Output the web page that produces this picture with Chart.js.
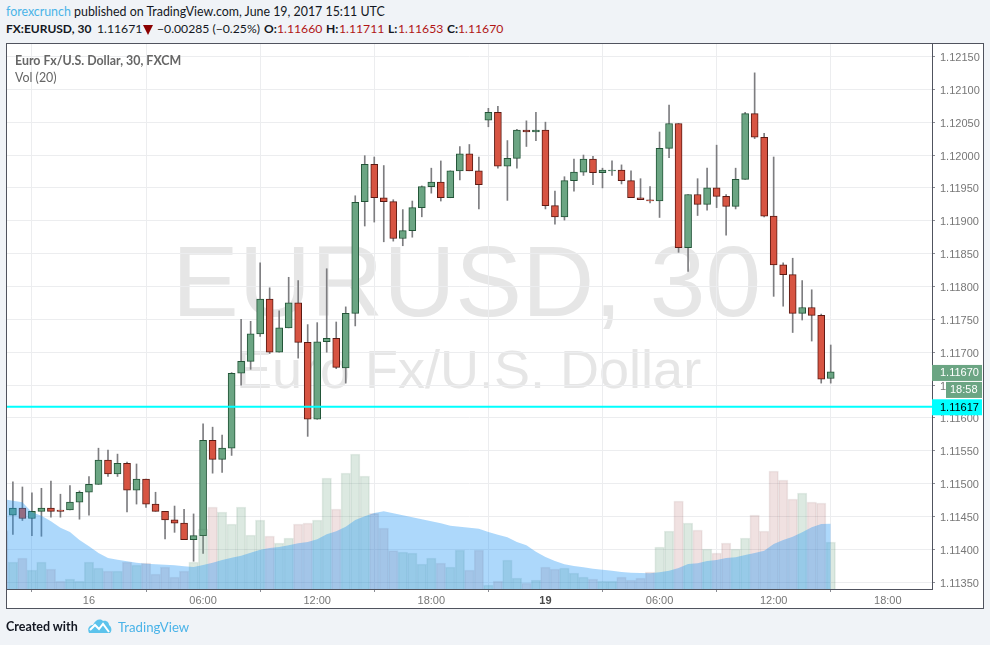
<!DOCTYPE html>
<html>
<head>
<meta charset="utf-8">
<title>EURUSD, 30</title>
<script src="https://cdn.jsdelivr.net/npm/chart.js@4"></script>
<style>
  html, body { margin: 0; padding: 0; background: #f0f3f7; }
  body { width: 990px; height: 645px; position: relative; overflow: hidden; font-family: Lato, sans-serif; color: #131722; }
  .abs { position: absolute; white-space: nowrap; }
  #panel { left: 6px; top: 43px; width: 976px; height: 564px; background: #fff; border: 1px solid #50535e; }
  #chart { position: absolute; left: 0; top: 0; }
  #line1 { left: 6px; top: 4px; font-size: 12.4px; line-height: 16px; }
  #line1 .brand { color: #4ab3e8; }
  .h2 { top: 21px; font-size: 12.2px; line-height: 16px; }
  .h2.lab { font-weight: 700; font-size: 12px; }
  .h2.red { color: #b01515; }
  #arrow { left: 143px; top: 25px; width: 0; height: 0; border-left: 5px solid transparent; border-right: 5px solid transparent; border-top: 10px solid #8b0000; }
  .mark { color: #e6e6e6; font-family: "Liberation Sans", sans-serif; }
  #mark1 { left: 172px; top: 226px; font-size: 100px; line-height: 110px; }
  #mark2 { left: 236px; top: 341px; font-size: 54px; line-height: 56px; }
  .legend { left: 15px; color: #666; font-size: 12.4px; line-height: 16px; }
  #legend1 { top: 53px; font-weight: 700; }
  #legend2 { top: 70px; }
  #created { left: 6px; top: 619px; font-size: 12.5px; line-height: 16px; font-weight: 700; }
  #tvname { left: 118px; top: 619px; font-size: 13.2px; line-height: 16px; color: #4ab3e8; }
  #logo { left: 88px; top: 618px; }
</style>
</head>
<body>
<div class="abs" id="line1"><span class="brand">forexcrunch</span> published on TradingView.com, June 19, 2017 15:11 UTC</div>
<div class="abs h2 lab" style="left:6px">FX:EURUSD, 30</div>
<div class="abs h2" style="left:97px">1.11671</div>
<div class="abs" id="arrow"></div>
<div class="abs h2" style="left:157px">−0.00285 (−0.25%)</div>
<div class="abs h2 lab" style="left:264px">O:</div>
<div class="abs h2 red" style="left:277px">1.11660</div>
<div class="abs h2 lab" style="left:326px">H:</div>
<div class="abs h2 red" style="left:339px">1.11711</div>
<div class="abs h2 lab" style="left:388px">L:</div>
<div class="abs h2 red" style="left:398px">1.11653</div>
<div class="abs h2 lab" style="left:447px">C:</div>
<div class="abs h2 red" style="left:458px">1.11670</div>
<div class="abs" id="panel"></div>
<div class="abs mark" id="mark1">EURUSD, 30</div>
<div class="abs mark" id="mark2">Euro Fx/U.S. Dollar</div>
<canvas id="chart" width="990" height="645"></canvas>
<div class="abs legend" id="legend1">Euro Fx/U.S. Dollar, 30, FXCM</div>
<div class="abs legend" id="legend2">Vol (20)</div>
<div class="abs" id="created">Created with</div>
<svg class="abs" id="logo" width="24" height="16" viewBox="0 0 24 16">
  <path d="M1 15 C-1 11 1 7 5 7 C7 2 12 0 15 3 C19 2 21 5 21 7 C24 9 24 13 22 15 Z" fill="#5cc3ec"/>
  <path d="M2 12 L7 7 L11 11 L15 6 L21 14" fill="none" stroke="#fff" stroke-width="2"/>
</svg>
<div class="abs" id="tvname">TradingView</div>

<script>
// === DATOS ===
const opens = [
  1.11452, 1.11463, 1.11447, 1.11458, 1.11463, 1.11460, 1.11460, 1.11472, 1.11487, 1.11499,
  1.11536, 1.11515, 1.11531, 1.11490, 1.11507, 1.11469, 1.11458, 1.11445, 1.11440, 1.11415,
  1.11421, 1.11566, 1.11537, 1.11554, 1.11668, 1.11686, 1.11728, 1.11781, 1.11700, 1.11737,
  1.11775, 1.11715, 1.11598, 1.11716, 1.11721, 1.11676, 1.11759, 1.11929, 1.11986, 1.11935,
  1.11929, 1.11873, 1.11885, 1.11920, 1.11952, 1.11959, 1.11935, 1.11976, 1.12002, 1.11976,
  1.12053, 1.12065, 1.11983, 1.11995, 1.12038, 1.12035, 1.12038, 1.11923, 1.11906, 1.11961,
  1.11974, 1.11994, 1.11973, 1.11976, 1.11977, 1.11961, 1.11935, 1.11932, 1.11930, 1.12010,
  1.12048, 1.11859, 1.11940, 1.11925, 1.11950, 1.11937, 1.11922, 1.11963, 1.12063, 1.12027,
  1.11907, 1.11833, 1.11818, 1.11759, 1.11768, 1.11756, 1.11660
];
const highs = [
  1.11503, 1.11495, 1.11486, 1.11493, 1.11504, 1.11484, 1.11497, 1.11489, 1.11511, 1.11554,
  1.11551, 1.11545, 1.11533, 1.11530, 1.11507, 1.11487, 1.11458, 1.11466, 1.11461, 1.11454,
  1.11591, 1.11586, 1.11574, 1.11669, 1.11750, 1.11747, 1.11836, 1.11798, 1.11763, 1.11814,
  1.11809, 1.11742, 1.11745, 1.11827, 1.11746, 1.11769, 1.11938, 1.11999, 1.11997, 1.11984,
  1.11932, 1.11917, 1.11930, 1.11953, 1.11980, 1.11991, 1.11976, 1.12013, 1.12016, 1.11997,
  1.12071, 1.12074, 1.12022, 1.12039, 1.12052, 1.12065, 1.12050, 1.11945, 1.11967, 1.11994,
  1.12000, 1.11998, 1.11980, 1.11991, 1.11985, 1.11976, 1.11964, 1.11952, 1.12035, 1.12076,
  1.12048, 1.11940, 1.11964, 1.11980, 1.12015, 1.11940, 1.11980, 1.12065, 1.12125, 1.12033,
  1.11997, 1.11836, 1.11843, 1.11809, 1.11795, 1.11758, 1.11711
];
const lows = [
  1.11423, 1.11444, 1.11421, 1.11420, 1.11449, 1.11449, 1.11460, 1.11446, 1.11452, 1.11499,
  1.11511, 1.11511, 1.11457, 1.11469, 1.11464, 1.11458, 1.11416, 1.11426, 1.11415, 1.11382,
  1.11394, 1.11516, 1.11517, 1.11543, 1.11650, 1.11674, 1.11724, 1.11698, 1.11700, 1.11737,
  1.11691, 1.11572, 1.11598, 1.11700, 1.11675, 1.11653, 1.11740, 1.11892, 1.11898, 1.11868,
  1.11869, 1.11862, 1.11875, 1.11906, 1.11942, 1.11930, 1.11935, 1.11962, 1.11976, 1.11918,
  1.12043, 1.11980, 1.11931, 1.11980, 1.12013, 1.12022, 1.11918, 1.11895, 1.11901, 1.11945,
  1.11969, 1.11955, 1.11950, 1.11969, 1.11956, 1.11935, 1.11932, 1.11927, 1.11905, 1.11996,
  1.11852, 1.11823, 1.11908, 1.11916, 1.11920, 1.11878, 1.11918, 1.11963, 1.12025, 1.11906,
  1.11785, 1.11770, 1.11730, 1.11749, 1.11717, 1.11653, 1.11653
];
const closes = [
  1.11463, 1.11447, 1.11458, 1.11463, 1.11458, 1.11458, 1.11472, 1.11487, 1.11499, 1.11536,
  1.11515, 1.11531, 1.11490, 1.11507, 1.11469, 1.11458, 1.11445, 1.11440, 1.11415, 1.11421,
  1.11566, 1.11537, 1.11554, 1.11668, 1.11686, 1.11728, 1.11781, 1.11700, 1.11737, 1.11775,
  1.11715, 1.11598, 1.11716, 1.11721, 1.11677, 1.11759, 1.11928, 1.11986, 1.11935, 1.11929,
  1.11873, 1.11885, 1.11920, 1.11952, 1.11959, 1.11935, 1.11976, 1.12002, 1.11976, 1.11955,
  1.12065, 1.11983, 1.11995, 1.12038, 1.12035, 1.12038, 1.11923, 1.11906, 1.11961, 1.11974,
  1.11994, 1.11973, 1.11977, 1.11977, 1.11961, 1.11935, 1.11932, 1.11930, 1.12010, 1.12048,
  1.11859, 1.11940, 1.11925, 1.11950, 1.11937, 1.11922, 1.11963, 1.12063, 1.12027, 1.11907,
  1.11833, 1.11818, 1.11759, 1.11768, 1.11756, 1.11659, 1.11670
];
// Volumen: el primer valor es la barra anterior, cortada por el borde izquierdo
const volumes = [
  175,
  81, 93, 57, 81, 60, 24, 30, 24, 81, 63,
  54, 54, 81, 72, 78, 45, 66, 36, 54, 81,
  180, 246, 231, 195, 246, 162, 207, 159, 138, 153,
  195, 198, 207, 333, 240, 348, 405, 339, 227, 183,
  115, 111, 108, 75, 93, 78, 66, 117, 57, 117,
  12, 24, 87, 33, 18, 27, 66, 60, 63, 48,
  36, 30, 24, 24, 36, 27, 33, 51, 126, 174,
  264, 198, 177, 120, 108, 138, 120, 153, 222, 174,
  354, 327, 270, 288, 261, 258, 141
];
const volumeMa = [
  270,
  265, 260, 230, 220, 203, 184, 171, 147, 128, 108,
  93, 88, 83, 79, 76, 74, 73, 71, 68, 66,
  72, 79, 87, 94, 100, 109, 118, 123, 126, 131,
  137, 141, 149, 164, 173, 187, 207, 218, 228, 233,
  227, 221, 215, 209, 203, 197, 190, 187, 184, 181,
  171, 163, 155, 141, 131, 112, 96, 84, 74, 69,
  65, 61, 58, 55, 51, 49, 48, 47, 50, 55,
  63, 75, 77, 84, 87, 93, 95, 102, 108, 115,
  135, 147, 157, 170, 185, 195, 196
];
const yTicks = [1.1135, 1.114, 1.1145, 1.115, 1.1155, 1.116, 1.1165, 1.117, 1.1175, 1.118, 1.1185, 1.119, 1.1195, 1.12, 1.1205, 1.121, 1.1215];
const xTickIndex = [8, 20, 32, 44, 56, 68, 80, 92];
const xTickLabels = ['16', '06:00', '12:00', '18:00', '19', '06:00', '12:00', '18:00'];
const boldTick = '19';
const levelPrice = 1.11617;
const countdown = '18:58';

// Rango visible de los ejes
const xMin = -0.62, xMax = 96.65;
const yMin = 1.113398, yMax = 1.121689;
const volMax = 1635;

const UP = '#6ba583', DOWN = '#d75442', UP_BORDER = '#225437', DOWN_BORDER = '#5b1a13';
const isUp = i => closes[i] >= opens[i];

// === ETIQUETAS DEL EJE DE PRECIOS ===
const priceTags = {
  id: 'priceTags',
  afterDraw(chart) {
    const ctx = chart.ctx, y = chart.scales.y;
    const tag = (x0, x1, cy, h, bg, fg, text, textX) => {
      ctx.fillStyle = bg;
      ctx.fillRect(x0, cy - h / 2, x1 - x0, h);
      ctx.fillStyle = fg;
      ctx.textAlign = 'left';
      ctx.textBaseline = 'middle';
      ctx.font = '11px "Liberation Sans"';
      ctx.fillText(text, textX, cy + 0.5);
    };
    const last = closes[closes.length - 1];
    tag(932, 982, y.getPixelForValue(last) + 1, 16, UP, '#fff', last.toFixed(5), 940);
    tag(946, 982, y.getPixelForValue(last) + 18, 16, UP, '#fff', countdown, 950);
    tag(932, 982, y.getPixelForValue(levelPrice) + 0.5, 16, '#00ffff', '#000', levelPrice.toFixed(5), 940);
  }
};

// === GRÁFICO ===
new Chart(document.getElementById('chart').getContext('2d'), {
  data: {
    datasets: [
      {
        type: 'line',
        data: [{ x: xMin, y: levelPrice }, { x: xMax, y: levelPrice }],
        borderColor: '#00ffff',
        borderWidth: 2,
        pointRadius: 0,
        order: 0
      },
      {
        type: 'line',
        yAxisID: 'v',
        data: volumeMa.map((v, i) => ({ x: i - 1, y: v })),
        backgroundColor: 'rgba(33,150,243,0.37)',
        borderWidth: 0,
        pointRadius: 0,
        fill: 'origin',
        order: 1
      },
      {
        type: 'bar',
        yAxisID: 'v',
        grouped: false,
        barPercentage: 1,
        categoryPercentage: 1,
        data: volumes.map((v, i) => ({ x: i - 1, y: v })),
        backgroundColor: volumes.map((v, i) => i > 0 && isUp(i - 1) ? 'rgba(107,165,131,0.24)' : 'rgba(170,90,90,0.18)'),
        borderColor: volumes.map((v, i) => i > 0 && isUp(i - 1) ? 'rgba(70,120,90,0.14)' : 'rgba(120,70,70,0.12)'),
        borderWidth: 1,
        order: 2
      },
      {
        type: 'bar',
        grouped: false,
        barThickness: 7,
        data: opens.map((o, i) => ({ x: i, y: [o, closes[i]] })),
        backgroundColor: opens.map((o, i) => isUp(i) ? UP : DOWN),
        borderColor: opens.map((o, i) => isUp(i) ? UP_BORDER : DOWN_BORDER),
        borderWidth: 1,
        borderSkipped: false,
        order: 3
      },
      {
        type: 'bar',
        grouped: false,
        barThickness: 1,
        data: lows.map((l, i) => ({ x: i, y: [l, highs[i]] })),
        backgroundColor: '#7d7d80',
        order: 4
      }
    ]
  },
  options: {
    responsive: false,
    animation: false,
    layout: { padding: { left: 7, top: 44, right: 8, bottom: 37 } },
    plugins: { legend: { display: false }, tooltip: { enabled: false } },
    scales: {
      x: {
        type: 'linear',
        min: xMin,
        max: xMax,
        offset: false,
        afterBuildTicks: s => { s.ticks = xTickIndex.map(v => ({ value: v })); },
        afterFit: s => { s.height = 19; },
        grid: { color: '#ecedef', tickColor: '#8a8c94', tickLength: 3 },
        border: { color: '#50535e' },
        ticks: {
          autoSkip: false,
          maxRotation: 0,
          padding: 2,
          callback: (v, i) => xTickLabels[i],
          color: c => xTickLabels[c.index] === boldTick ? '#4a4a4a' : '#777',
          font: c => ({ family: '"Liberation Sans"', size: 11, weight: xTickLabels[c.index] === boldTick ? 'bold' : 'normal' })
        }
      },
      y: {
        position: 'right',
        min: yMin,
        max: yMax,
        afterBuildTicks: s => { s.ticks = yTicks.map(v => ({ value: v })); },
        afterFit: s => { s.width = 50; },
        grid: { color: '#ecedef', tickColor: '#8a8c94', tickLength: 3 },
        border: { color: '#50535e' },
        ticks: {
          autoSkip: false,
          padding: 5,
          labelOffset: 1.5,
          color: '#777',
          font: { family: '"Liberation Sans"', size: 11 },
          callback: v => v.toFixed(5)
        }
      },
      v: { display: false, min: 0, max: volMax }
    }
  },
  plugins: [priceTags]
});
</script>
</body>
</html>
